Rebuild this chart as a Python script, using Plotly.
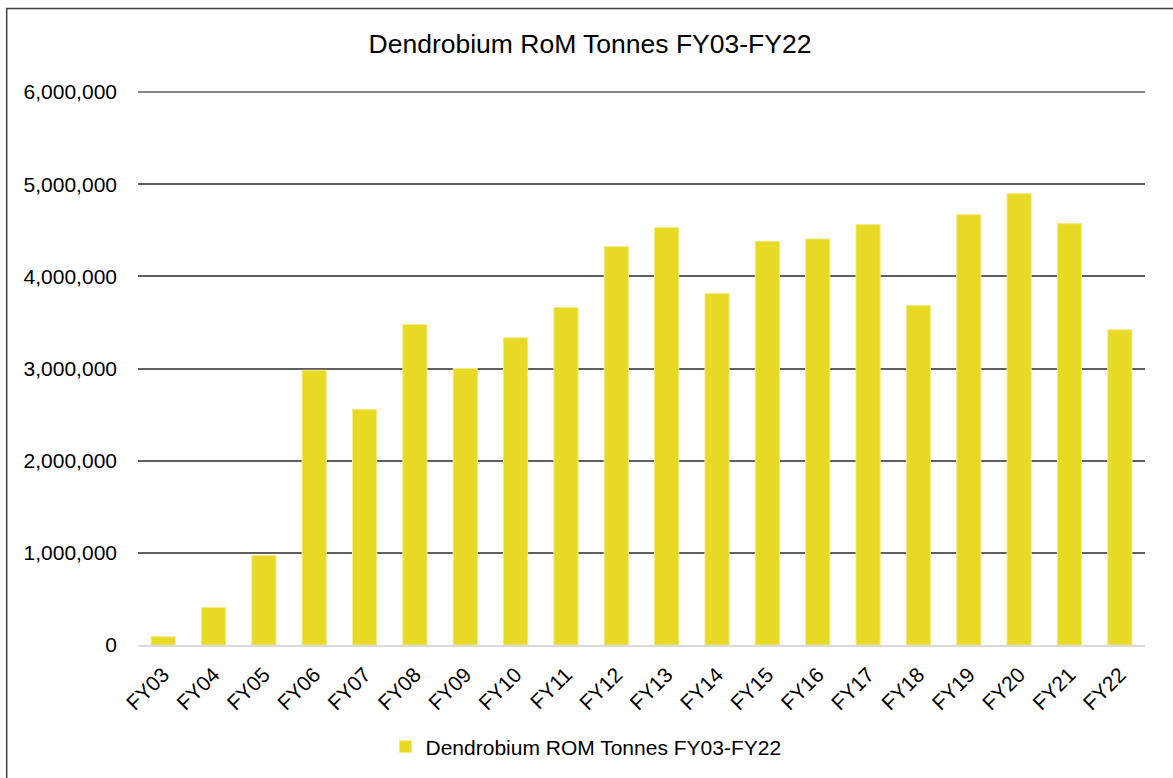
import plotly.graph_objects as go

categories = ["FY03", "FY04", "FY05", "FY06", "FY07", "FY08", "FY09", "FY10", "FY11", "FY12",
              "FY13", "FY14", "FY15", "FY16", "FY17", "FY18", "FY19", "FY20", "FY21", "FY22"]
rom_tonnes = [90000, 408000, 972000, 2980000, 2557000, 3478000, 3000000, 3333000, 3662000, 4323000,
              4529000, 3814000, 4380000, 4406000, 4561000, 3684000, 4670000, 4897000, 4572000, 3420000]

title_text = "Dendrobium RoM Tonnes FY03-FY22"
series_name = "Dendrobium ROM Tonnes FY03-FY22"
y_ticks = [0, 1000000, 2000000, 3000000, 4000000, 5000000, 6000000]

W, H = 1173, 778
ML, MR, MT, MB = 138, 28, 92, 133
PW, PH = W - ML - MR, H - MT - MB

FONT = "Liberation Sans, Arial, sans-serif"
GRID = "#5F5F5F"

fig = go.Figure()
fig.add_trace(go.Bar(
    x=categories, y=rom_tonnes, name=series_name,
    marker=dict(color="#E8D924", line=dict(color="#F3EA8A", width=1)),
    showlegend=True,
))


def px_to_paper_x(px):
    return (px - ML) / PW


def px_to_paper_y(py):
    return (H - MB - py) / PH


# outer chart border (left and top visible)
fig.add_shape(type="rect", xref="paper", yref="paper",
              x0=px_to_paper_x(6.7), x1=px_to_paper_x(1200),
              y0=px_to_paper_y(800), y1=px_to_paper_y(8.5),
              line=dict(color="#404040", width=1.5), fillcolor="rgba(0,0,0,0)")

# top gridline at the top of the y range (plotly omits the gridline at the range edge)
fig.add_shape(type="line", xref="paper", yref="paper", layer="below",
              x0=0, x1=1, y0=1, y1=1,
              line=dict(color=GRID, width=1.5))

fig.update_layout(
    width=W, height=H,
    margin=dict(l=ML, r=MR, t=MT, b=MB, autoexpand=False),
    paper_bgcolor="white", plot_bgcolor="white",
    font=dict(family=FONT, color="#000000", size=20),
    title=dict(text=title_text, x=590 / W, xref="container", xanchor="center",
               y=1 - 44 / H, yref="container", yanchor="middle",
               font=dict(size=26.5, family=FONT, color="#000000")),
    bargap=0.52,
    showlegend=True,
    legend=dict(orientation="h", x=586 / W, xref="container", xanchor="center",
                y=px_to_paper_y(747), yanchor="middle",
                font=dict(size=21, family=FONT, color="#000000"),
                bgcolor="rgba(0,0,0,0)"),
    xaxis=dict(type="category", tickangle=-45, showgrid=False, zeroline=False,
               showline=True, linecolor="#D9D9D9", linewidth=2,
               ticks="", ticklabelstandoff=7,
               tickfont=dict(size=21, family=FONT, color="#000000")),
    yaxis=dict(range=[0, max(y_ticks)], tickvals=y_ticks, tickformat=",d",
               showgrid=True, gridcolor=GRID, gridwidth=1.5,
               zeroline=False, showline=False, ticks="",
               ticklabelstandoff=20,
               tickfont=dict(size=21, family=FONT, color="#000000")),
)

fig.write_html("out.html", config={"displayModeBar": False},
               post_script="document.body.style.margin='0';document.body.style.padding='0';")
